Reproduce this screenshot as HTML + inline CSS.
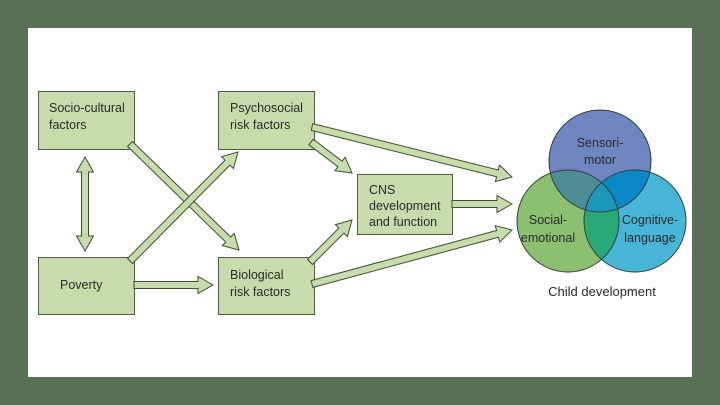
<!DOCTYPE html>
<html><head><meta charset="utf-8"><style>
html,body{margin:0;padding:0;background:#5a7056;}
svg{display:block}
text{font-family:"Liberation Sans",sans-serif;fill:#2a2a2a}
</style></head><body>
<svg width="720" height="405" viewBox="0 0 720 405" xmlns="http://www.w3.org/2000/svg">
<rect x="0" y="0" width="720" height="405" fill="#5a7056"/>
<rect x="28" y="28" width="664" height="349" fill="#ffffff"/>
<g fill="#c7dcad" stroke="#4e5e40" stroke-width="1">
<rect x="38.5" y="91.5" width="96" height="58"/>
<rect x="218.5" y="91.5" width="96" height="58"/>
<rect x="38.5" y="257.5" width="96" height="57"/>
<rect x="218.5" y="257.5" width="96" height="57"/>
<rect x="357.5" y="174.5" width="95" height="60"/>
</g>
<g id="arrows" fill="#c7dcad" stroke="#3e4e30" stroke-width="1"></g>
<g font-size="12.5">
<text x="49" y="112">Socio-cultural</text><text x="49" y="129">factors</text>
<text x="230" y="112">Psychosocial</text><text x="230" y="129">risk factors</text>
<text x="60" y="289">Poverty</text>
<text x="230" y="279">Biological</text><text x="230" y="296">risk factors</text>
<text x="369" y="194">CNS</text><text x="369" y="210">development</text><text x="369" y="226">and function</text>
</g>
<defs>
<clipPath id="cS"><circle cx="600" cy="161" r="51"/></clipPath>
<clipPath id="cE"><circle cx="568" cy="221" r="51"/></clipPath>
<clipPath id="cC"><circle cx="635" cy="221" r="51"/></clipPath>
</defs>
<circle cx="600" cy="161" r="51" fill="#6f86c1"/>
<circle cx="568" cy="221" r="51" fill="#8dbf70"/>
<circle cx="635" cy="221" r="51" fill="#47b6d6"/>
<g clip-path="url(#cS)"><circle cx="568" cy="221" r="51" fill="#4e8c98"/><circle cx="635" cy="221" r="51" fill="#0c88c6"/></g>
<g clip-path="url(#cE)"><circle cx="635" cy="221" r="51" fill="#2aa978"/></g>
<g clip-path="url(#cE)"><g clip-path="url(#cC)"><circle cx="600" cy="161" r="51" fill="#1a9ab8"/></g></g>
<g fill="none" stroke="#2f3f3a" stroke-width="1">
<circle cx="600" cy="161" r="51"/><circle cx="568" cy="221" r="51"/><circle cx="635" cy="221" r="51"/>
</g>
<g font-size="12.5" text-anchor="middle">
<text x="600" y="147">Sensori-</text><text x="600" y="164">motor</text>
<text x="548" y="224">Social-</text><text x="548" y="242">emotional</text>
<text x="650" y="224">Cognitive-</text><text x="650" y="242">language</text>
<text x="602" y="296" font-size="13">Child development</text>
</g>
<script>
(function(){
var g=document.getElementById('arrows');
function arrow(x1,y1,x2,y2,dbl){
 var dx=x2-x1,dy=y2-y1,L=Math.sqrt(dx*dx+dy*dy),ux=dx/L,uy=dy/L,px=-uy,py=ux;
 var w=3.5,hw=8.5,hl=15;
 function P(t,s){return (x1+ux*t+px*s).toFixed(1)+','+(y1+uy*t+py*s).toFixed(1);}
 var pts=[];
 if(dbl){pts.push(P(0,0),P(hl,hw),P(hl,w));}else{pts.push(P(0,w));}
 pts.push(P(L-hl,w),P(L-hl,hw),P(L,0),P(L-hl,-hw),P(L-hl,-w));
 if(dbl){pts.push(P(hl,-w),P(hl,-hw));}else{pts.push(P(0,-w));}
 var p=document.createElementNS('http://www.w3.org/2000/svg','polygon');
 p.setAttribute('points',pts.join(' '));g.appendChild(p);
}
arrow(85,157,85,251,true);
arrow(130,144,239,250);
arrow(130,261,238,152);
arrow(134,285,213,285);
arrow(312,127,512,177);
arrow(311,142,352,173);
arrow(452,204,512,204);
arrow(310,262,352,220);
arrow(312,284,512,230);
})();
</script>
</svg>
</body></html>
